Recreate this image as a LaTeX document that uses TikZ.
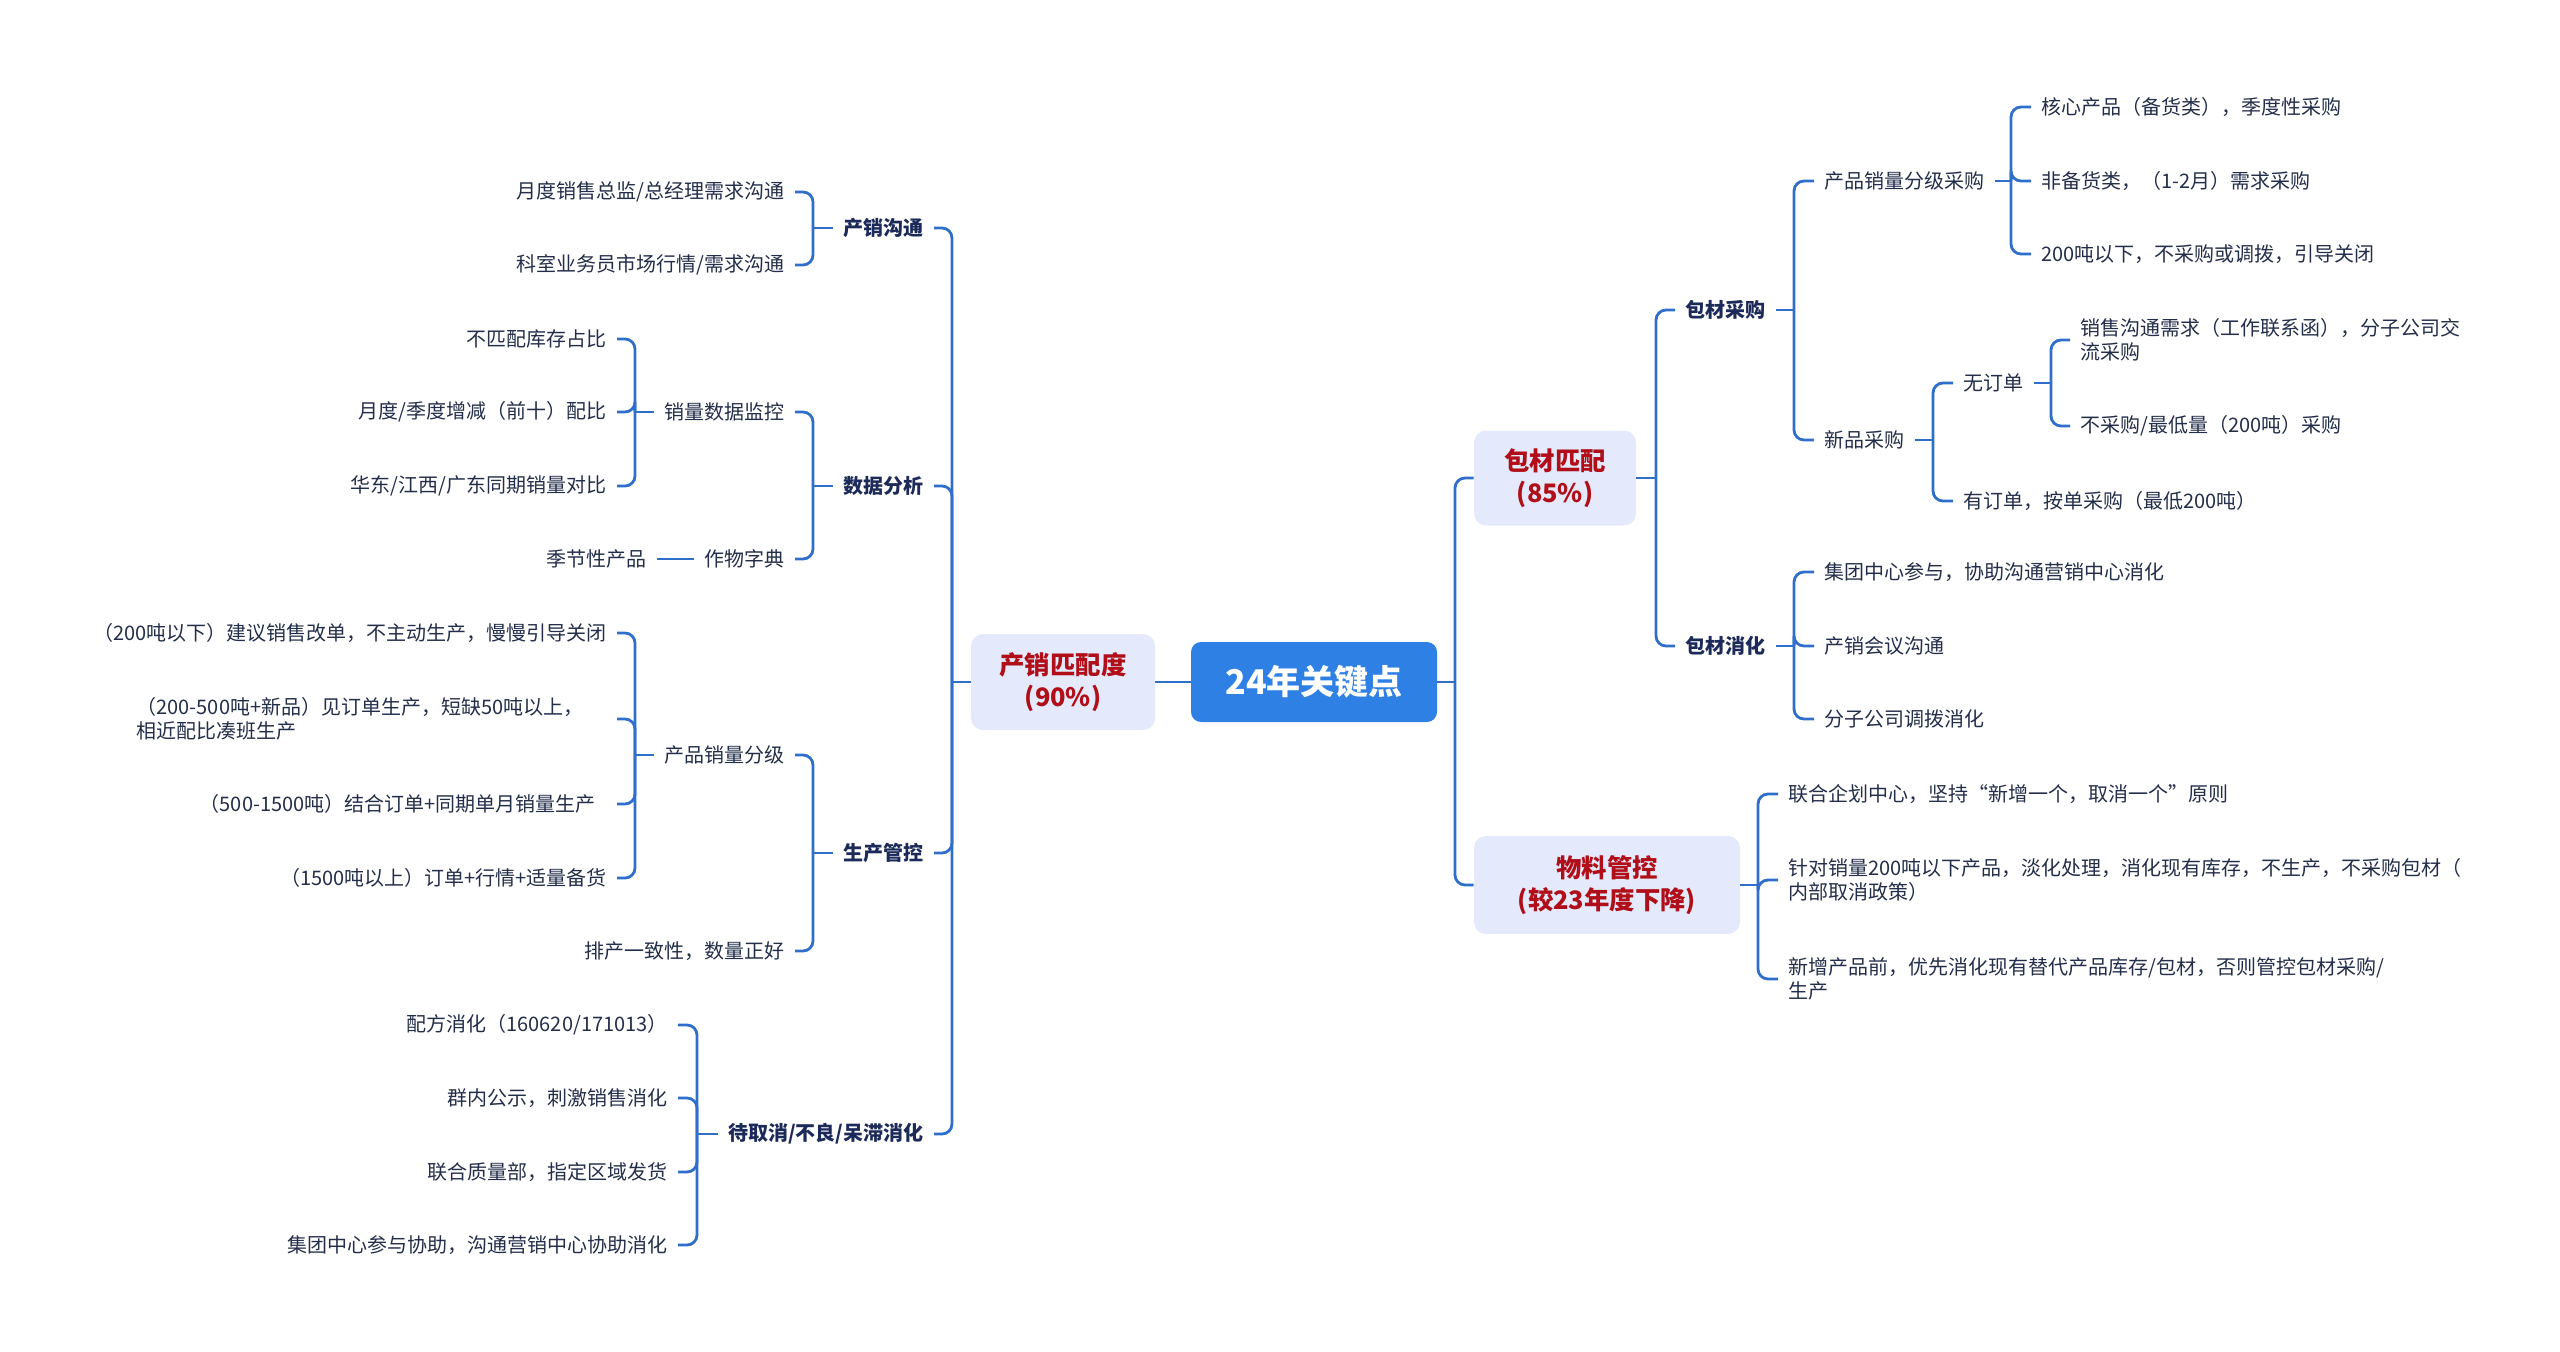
\documentclass[tikz,border=0pt]{standalone}
\usepackage{fontspec}
\setmainfont{Noto Sans CJK SC}
\definecolor{rootblue}{HTML}{2F80E5}
\definecolor{boxfill}{HTML}{E4EAFB}
\definecolor{redtxt}{HTML}{B00E18}
\definecolor{linec}{HTML}{2F6FCB}
\definecolor{navy}{HTML}{1C2A5A}
\definecolor{leafc}{HTML}{232E4A}
\tikzset{
  conn/.style={draw=linec, line width=1.4pt, rounded corners=5pt},
  rootbox/.style={fill=rootblue, text=white, rounded corners=5pt, font=\bfseries\fontsize{17pt}{20pt}\selectfont, minimum width=123pt, minimum height=40pt, inner sep=0pt},
  mainbox/.style={fill=boxfill, text=redtxt, rounded corners=6pt, font=\bfseries\fontsize{12.7pt}{16.3pt}\selectfont, align=center, inner sep=0pt},
  sub/.style={text=navy, font=\bfseries\fontsize{10pt}{12.2pt}\selectfont, inner xsep=5pt, inner ysep=2pt},
  leaf/.style={text=leafc, font=\fontsize{10pt}{12.2pt}\selectfont, inner xsep=5pt, inner ysep=2pt},
  leaf2/.style={leaf, align=left}
}
\begin{document}
\begin{tikzpicture}[x=0.5pt,y=-0.5pt]
\useasboundingbox (0,0) rectangle (2560,1351);
% bracket x coordinates
\coordinate (tL) at (952,0);
\coordinate (bA) at (813,0);
\coordinate (bB) at (635,0);
\coordinate (bD) at (697,0);
\coordinate (tR) at (1455,0);
\coordinate (bP) at (1656,0);
\coordinate (bQ) at (1794,0);
\coordinate (bR) at (2011,0);
\coordinate (bS) at (1933,0);
\coordinate (bT) at (2051,0);
\coordinate (bM) at (1758,0);

% root and main boxes
\node[rootbox] (root) at (1314,682) {24年关键点};
\node[mainbox, minimum width=92pt, minimum height=48pt] (pm) at (1063,682) {产销匹配度\\(90\%)};
\node[mainbox, minimum width=81pt, minimum height=47.5pt] (bc) at (1555,478) {包材匹配\\(85\%)};
\node[mainbox, minimum width=133pt, minimum height=49pt] (wl) at (1607,885) {物料管控\\(较23年度下降)};

% left level 2
\node[sub, anchor=east] (l1) at (934,228) {产销沟通};
\node[sub, anchor=east] (l2) at (934,486) {数据分析};
\node[sub, anchor=east] (l3) at (934,853) {生产管控};
\node[sub, anchor=east] (l4) at (934,1134) {待取消/不良/呆滞消化};

% 产销沟通 children
\node[leaf, anchor=east] (a1) at (795,192) {月度销售总监/总经理需求沟通};
\node[leaf, anchor=east] (a2) at (795,265) {科室业务员市场行情/需求沟通};

% 数据分析 children
\node[leaf, anchor=east] (b1) at (795,412) {销量数据监控};
\node[leaf, anchor=east] (b2) at (795,559) {作物字典};
\node[leaf, anchor=east] (b11) at (617,339) {不匹配库存占比};
\node[leaf, anchor=east] (b12) at (617,412) {月度/季度增减（前十）配比};
\node[leaf, anchor=east] (b13) at (617,486) {华东/江西/广东同期销量对比};
\node[leaf, anchor=east] (b21) at (657,559) {季节性产品};

% 生产管控 children
\node[leaf, anchor=east] (c1) at (795,755) {产品销量分级};
\node[leaf, anchor=east] (c2) at (795,951) {排产一致性，数量正好};
\node[leaf, anchor=east] (c11) at (617,633) {（200吨以下）建议销售改单，不主动生产，慢慢引导关闭};
\node[leaf2, anchor=east, text width=235pt] (c12) at (617,719) {（200-500吨+新品）见订单生产，短缺50吨以上，\\相近配比凑班生产};
\node[leaf, anchor=east] (c13) at (606,804) {（500-1500吨）结合订单+同期单月销量生产};
\node[leaf, anchor=east] (c14) at (617,878) {（1500吨以上）订单+行情+适量备货};

% 待取消 children
\node[leaf, anchor=east] (d1) at (678,1025) {配方消化（160620/171013）};
\node[leaf, anchor=east] (d2) at (678,1098) {群内公示，刺激销售消化};
\node[leaf, anchor=east] (d3) at (678,1172) {联合质量部，指定区域发货};
\node[leaf, anchor=east] (d4) at (678,1245) {集团中心参与协助，沟通营销中心协助消化};

% right level 2
\node[sub, anchor=west] (r1) at (1675,310) {包材采购};
\node[sub, anchor=west] (r2) at (1675,646) {包材消化};

\node[leaf, anchor=west] (p1) at (1814,181) {产品销量分级采购};
\node[leaf, anchor=west] (p2) at (1814,440) {新品采购};
\node[leaf, anchor=west] (p11) at (2031,107) {核心产品（备货类），季度性采购};
\node[leaf, anchor=west] (p12) at (2031,181) {非备货类，（1-2月）需求采购};
\node[leaf, anchor=west] (p13) at (2031,254) {200吨以下，不采购或调拨，引导关闭};
\node[leaf, anchor=west] (p21) at (1953,383) {无订单};
\node[leaf, anchor=west] (p22) at (1953,501) {有订单，按单采购（最低200吨）};
\node[leaf2, anchor=west] (p211) at (2070,340) {销售沟通需求（工作联系函），分子公司交\\流采购};
\node[leaf, anchor=west] (p212) at (2070,426) {不采购/最低量（200吨）采购};

\node[leaf, anchor=west] (q1) at (1814,572) {集团中心参与，协助沟通营销中心消化};
\node[leaf, anchor=west] (q2) at (1814,646) {产销会议沟通};
\node[leaf, anchor=west] (q3) at (1814,719) {分子公司调拨消化};

\node[leaf, anchor=west] (m1) at (1778,794) {联合企划中心，坚持“新增一个，取消一个”原则};
\node[leaf2, anchor=west] (m2) at (1778,880) {针对销量200吨以下产品，淡化处理，消化现有库存，不生产，不采购包材（\\内部取消政策）};
\node[leaf2, anchor=west] (m3) at (1778,979) {新增产品前，优先消化现有替代产品库存/包材，否则管控包材采购/\\生产};

% ---------- connectors ----------
\draw[conn] (root.west) -- (pm.east);
\draw[conn] (pm.west) -- (pm.west -| tL);
\foreach \c in {l1,l2,l3,l4} \draw[conn] (pm.west -| tL) |- (\c.east);

\draw[conn] (l1.west) -- (l1.west -| bA);
\foreach \c in {a1,a2} \draw[conn] (l1.west -| bA) |- (\c.east);

\draw[conn] (l2.west) -- (l2.west -| bA);
\foreach \c in {b1,b2} \draw[conn] (l2.west -| bA) |- (\c.east);
\draw[conn] (b1.west) -- (b1.west -| bB);
\foreach \c in {b11,b12,b13} \draw[conn] (b1.west -| bB) |- (\c.east);
\draw[conn] (b2.west) -- (b21.east);

\draw[conn] (l3.west) -- (l3.west -| bA);
\foreach \c in {c1,c2} \draw[conn] (l3.west -| bA) |- (\c.east);
\draw[conn] (c1.west) -- (c1.west -| bB);
\foreach \c in {c11,c12,c14} \draw[conn] (c1.west -| bB) |- (\c.east);
\draw[conn] (c1.west -| bB) |- (c13.east -| c14.east);

\draw[conn] (l4.west) -- (l4.west -| bD);
\foreach \c in {d1,d2,d3,d4} \draw[conn] (l4.west -| bD) |- (\c.east);

\draw[conn] (root.east) -- (root.east -| tR);
\foreach \c in {bc,wl} \draw[conn] (root.east -| tR) |- (\c.west);

\draw[conn] (bc.east) -- (bc.east -| bP);
\foreach \c in {r1,r2} \draw[conn] (bc.east -| bP) |- (\c.west);

\draw[conn] (r1.east) -- (r1.east -| bQ);
\foreach \c in {p1,p2} \draw[conn] (r1.east -| bQ) |- (\c.west);
\draw[conn] (p1.east) -- (p1.east -| bR);
\foreach \c in {p11,p12,p13} \draw[conn] (p1.east -| bR) |- (\c.west);
\draw[conn] (p2.east) -- (p2.east -| bS);
\foreach \c in {p21,p22} \draw[conn] (p2.east -| bS) |- (\c.west);
\draw[conn] (p21.east) -- (p21.east -| bT);
\foreach \c in {p211,p212} \draw[conn] (p21.east -| bT) |- (\c.west);

\draw[conn] (r2.east) -- (r2.east -| bQ);
\foreach \c in {q1,q2,q3} \draw[conn] (r2.east -| bQ) |- (\c.west);

\draw[conn] (wl.east) -- (wl.east -| bM);
\foreach \c in {m1,m2,m3} \draw[conn] (wl.east -| bM) |- (\c.west);
\end{tikzpicture}
\end{document}
